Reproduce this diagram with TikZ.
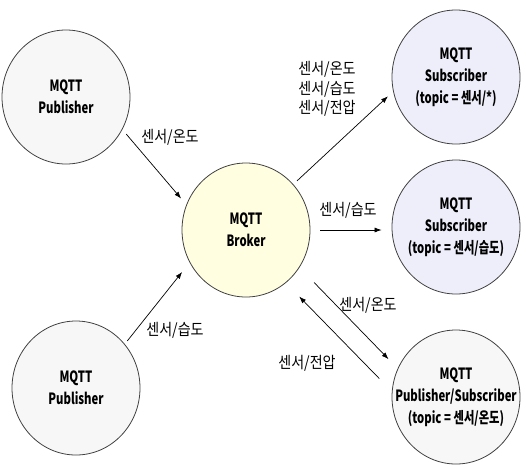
\documentclass[tikz,border=0pt]{standalone}
\usepackage{fontspec}
\setmainfont{Noto Sans CJK KR}[FakeStretch=0.88]
\newfontfamily\clientfont{Noto Sans CJK KR}[FakeStretch=0.73]
\usepackage{xcolor}
\usetikzlibrary{arrows.meta,shapes.geometric}
\definecolor{pubfill}{HTML}{F7F7F7}
\definecolor{brokerfill}{HTML}{FFFEE0}
\definecolor{subfill}{HTML}{EEEEFB}
\tikzstyle{client}=[draw=black!75, shape=ellipse, line width=0.8pt, minimum width=128pt, minimum height=134pt, inner xsep=-30pt, inner ysep=-10pt, align=center, font=\clientfont\bfseries\fontsize{15.5}{22}\selectfont]
\tikzstyle{edge}=[line width=0.7pt, -{Latex[length=7pt,width=5pt]}]
\tikzstyle{topic}=[align=center, inner sep=1pt, font=\fontsize{16}{19.5}\selectfont]

\begin{document}
\begin{tikzpicture}[x=1pt, y=-1pt]
            \useasboundingbox (0,0) rectangle (526,467);
            \node[client, fill=pubfill] (pub1) at (66,97) {MQTT\\Publisher};
            \node[client, fill=pubfill] (pub2) at (76,388) {MQTT\\Publisher};
            \node[client, fill=brokerfill] (broker) at (246,230) {MQTT\\Broker};
            \node[client, fill=subfill] (sub1) at (456,77) {MQTT\\Subscriber\\(topic = 센서/*)};
            \node[client, fill=subfill] (sub2) at (456,227) {MQTT\\Subscriber\\(topic = 센서/습도)};
            \node[client, fill=pubfill] (pubsub) at (456,397) {MQTT\\Publisher/Subscriber\\(topic = 센서/온도)};
            \draw[edge, shorten <=6pt, shorten >=8pt] (pub1.-30) -- (broker.157);
            \draw[edge, shorten <=4pt, shorten >=12pt] (pub2.42) -- (broker.210);
            \draw[edge, shorten <=5pt, shorten >=7pt] (broker.44) -- (sub1.193);
            \draw[edge, shorten <=10pt, shorten >=10pt] (broker.east) -- (broker.east -| sub2.west);
            \draw[edge, shorten <=21pt, shorten >=13pt] (broker.-35) -- (pubsub.154);
            \draw[edge, shorten <=18pt, shorten >=19pt] (pubsub.175) -- (broker.-53);
            \node[topic] (t1) at (170,137) {센서/온도};
            \node[topic] (t2) at (175,330) {센서/습도};
            \node[topic] (t3) at (327,89) {센서/온도\\센서/습도\\센서/전압};
            \node[topic] (t4) at (348,210) {센서/습도};
            \node[topic] (t5) at (368,305) {센서/온도};
            \node[topic] (t6) at (307,363) {센서/전압};
        \end{tikzpicture}
\end{document}
